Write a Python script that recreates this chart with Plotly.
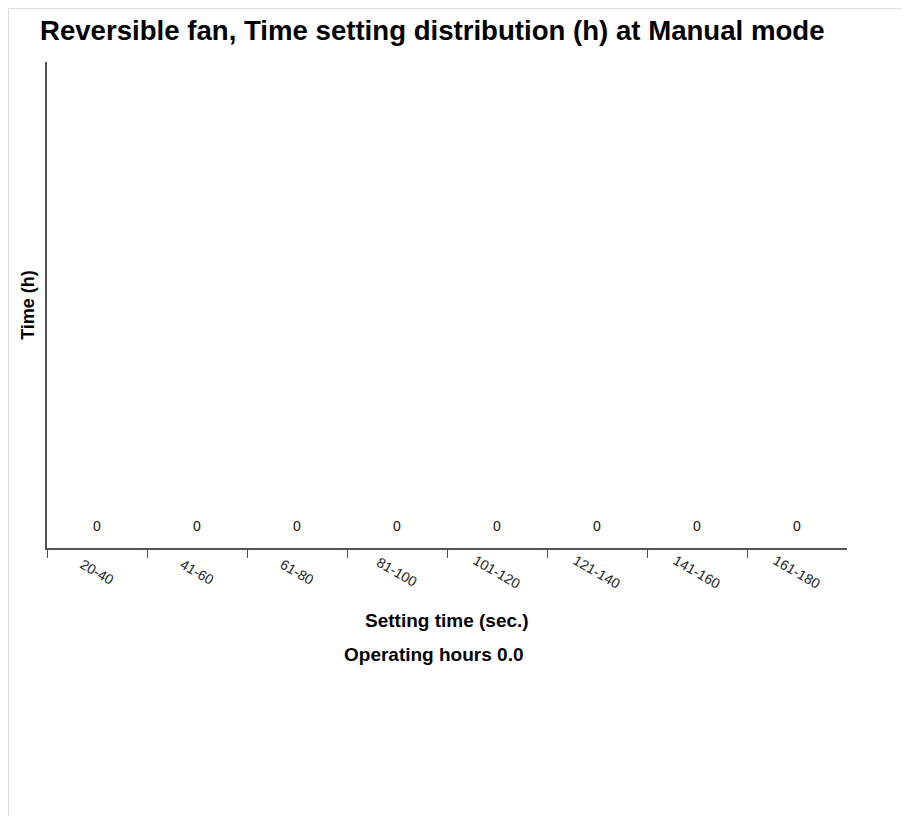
import plotly.graph_objects as go

categories = ['20-40', '41-60', '61-80', '81-100', '101-120', '121-140', '141-160', '161-180']
hours = [0, 0, 0, 0, 0, 0, 0, 0]
operating_hours = 0.0

xs = list(range(len(categories)))
font_family = 'Liberation Sans, Arial, sans-serif'

fig = go.Figure()
fig.add_trace(go.Bar(x=xs, y=hours, marker_color='#4a7ebb', width=0.8,
                     hoverinfo='skip', showlegend=False))

# value labels above bars
for i, v in enumerate(hours):
    fig.add_annotation(x=i, y=v, text=str(v), showarrow=False, yanchor='bottom',
                       yshift=12, font=dict(size=14, color='#111'))

# rotated category labels
for i, c in enumerate(categories):
    fig.add_annotation(x=i, y=0, yref='paper', text=c, showarrow=False, textangle=30,
                       yanchor='middle', yshift=-24, font=dict(size=14, color='#222'))

fig.add_annotation(x=0.5, y=0, xref='paper', yref='paper', text='<b>Setting time (sec.)</b>',
                   showarrow=False, yanchor='middle', yshift=-72, font=dict(size=19, color='#000'))
fig.add_annotation(x=0.4825, y=0, xref='paper', yref='paper',
                   text=f'<b>Operating hours {operating_hours:.1f}</b>',
                   showarrow=False, yanchor='middle', yshift=-106, font=dict(size=19, color='#000'))

# light frame around the card
fig.add_shape(type='line', xref='paper', yref='paper', x0=-0.048, x1=1.09, y0=1.11, y1=1.11,
              line=dict(color='#dddddd', width=1))
fig.add_shape(type='line', xref='paper', yref='paper', x0=-0.048, x1=-0.048, y0=1.11, y1=-0.57,
              line=dict(color='#dddddd', width=1))

fig.update_xaxes(range=[-0.5, 7.5], tickvals=[i - 0.5 for i in xs], ticktext=[''] * len(xs),
                 ticks='outside', ticklen=8, tickcolor='#555', showline=True, linecolor='#555',
                 linewidth=1.5, showgrid=False, zeroline=False, fixedrange=True)
fig.update_yaxes(range=[0, 1], showticklabels=False, ticks='', showline=True, linecolor='#555',
                 linewidth=1.5, showgrid=False, zeroline=False,
                 title=dict(text='<b>Time (h)</b>', font=dict(size=18, color='#000'), standoff=6))

fig.update_layout(
    title=dict(text='<b>Reversible fan, Time setting distribution (h) at Manual mode</b>',
               x=32 / 909, xanchor='left', y=1 - 22 / 816, yanchor='middle',
               font=dict(size=27.6, color='#000')),
    width=909, height=816,
    margin=dict(l=39, r=70, t=54, b=276),
    plot_bgcolor='white', paper_bgcolor='white',
    font=dict(family=font_family),
)

fig.write_html('out.html')
